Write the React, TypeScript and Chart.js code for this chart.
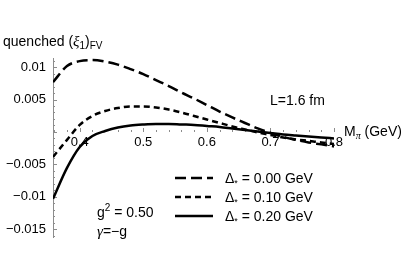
import React, { useEffect, useRef } from 'react';
import { Chart, registerables } from 'chart.js';

Chart.register(...registerables);

// Pion mass M_pi (GeV)
const massGeV = [0.358, 0.38, 0.40, 0.42, 0.44, 0.46, 0.48, 0.50, 0.52, 0.54, 0.56, 0.58, 0.60, 0.62, 0.64, 0.66, 0.68, 0.70, 0.72, 0.74, 0.76, 0.78, 0.80];

// quenched (xi_1)_FV for Delta* = 0.00 GeV (long dashes)
const xiDelta000 = [0.00769, 0.01015, 0.01092, 0.01108, 0.01085, 0.01038, 0.00969, 0.00892, 0.00800, 0.00708, 0.00608, 0.00515, 0.00415, 0.00315, 0.00223, 0.00138, 0.00054, -0.00015, -0.00077, -0.00123, -0.00162, -0.00192, -0.00223];
// Delta* = 0.10 GeV (short dashes)
const xiDelta010 = [-0.00385, -0.00123, 0.00108, 0.00246, 0.00323, 0.00369, 0.00392, 0.00392, 0.00377, 0.00346, 0.00300, 0.00246, 0.00192, 0.00138, 0.00085, 0.00038, -0.00008, -0.00046, -0.00085, -0.00115, -0.00138, -0.00162, -0.00185];
// Delta* = 0.20 GeV (solid)
const xiDelta020 = [-0.01031, -0.00554, -0.00231, -0.00062, 0.00015, 0.00069, 0.00100, 0.00115, 0.00123, 0.00123, 0.00115, 0.00108, 0.00092, 0.00077, 0.00054, 0.00031, 0.00008, -0.00015, -0.00038, -0.00054, -0.00069, -0.00085, -0.00100];

const seriesDeltas = ['0.00', '0.10', '0.20'];
const seriesDashes = [[11, 5], [6, 4], []];

const xTickValues = [0.4, 0.5, 0.6, 0.7, 0.8];
const xTickLabels = ['0.4', '0.5', '0.6', '0.7', '0.8'];
const yTickValues = [-0.015, -0.01, -0.005, 0, 0.005, 0.01];
const yTickLabels = ['\u22120.015', '\u22120.01', '\u22120.005', '', '0.005', '0.01'];

const X_MIN = 0.358;
const X_MAX = 0.8;
const Y_MIN = -0.0162;
const Y_MAX = 0.0114;

const SANS = '"Liberation Sans", Arial, Helvetica, sans-serif';
const SERIF = '"Liberation Serif", "Times New Roman", serif';

type Seg = { t: string; f: string; dy?: number };

function drawSegs(ctx: CanvasRenderingContext2D, x: number, y: number, segs: Seg[]) {
  let cx = x;
  for (const s of segs) {
    ctx.font = s.f;
    ctx.fillText(s.t, cx, y + (s.dy || 0));
    cx += ctx.measureText(s.t).width;
  }
}

const axisTicksPlugin = {
  id: 'axisTicks',
  beforeDatasetsDraw(chart: any) {
    const ctx: CanvasRenderingContext2D = chart.ctx;
    const xs = chart.scales.x;
    const ys = chart.scales.y;
    const left = chart.chartArea.left;
    ctx.save();
    ctx.strokeStyle = '#8c8c8c';
    ctx.lineWidth = 1;
    for (let k = -16; k <= 11; k++) {
      const py = Math.round(ys.getPixelForValue(k / 1000)) + 0.5;
      const major = k % 5 === 0;
      ctx.beginPath();
      ctx.moveTo(left, py);
      ctx.lineTo(left + (major ? 4 : 2), py);
      ctx.stroke();
    }
    const y0 = Math.round(ys.getPixelForValue(0));
    for (let k = 18; k <= 40; k++) {
      const px = Math.round(xs.getPixelForValue(k / 50)) + 0.5;
      const major = k % 5 === 0;
      ctx.beginPath();
      ctx.moveTo(px, y0);
      ctx.lineTo(px, y0 - (major ? 4 : 2));
      ctx.stroke();
    }
    ctx.restore();
  },
  afterDraw(chart: any) {
    const ctx: CanvasRenderingContext2D = chart.ctx;
    ctx.save();
    ctx.fillStyle = '#000';
    ctx.textBaseline = 'alphabetic';
    ctx.textAlign = 'left';
    const f14 = `14px ${SANS}`;
    const f10 = `10px ${SANS}`;
    // y-axis title
    drawSegs(ctx, 3, 46, [
      { t: 'quenched (', f: f14 },
      { t: '\u03BE', f: `italic 15px ${SERIF}` },
      { t: '1', f: f10, dy: 3 },
      { t: ')', f: f14 },
      { t: 'FV', f: f10, dy: 3 },
    ]);
    // x-axis title
    drawSegs(ctx, 344, 136, [
      { t: 'M', f: f14 },
      { t: '\u03C0', f: `italic 10px ${SERIF}`, dy: 3 },
      { t: ' (GeV)', f: f14 },
    ]);
    drawSegs(ctx, 270, 105, [{ t: 'L=1.6 fm', f: f14 }]);
    drawSegs(ctx, 97, 217, [
      { t: 'g', f: f14 },
      { t: '2', f: f10, dy: -6 },
      { t: ' = 0.50', f: f14 },
    ]);
    drawSegs(ctx, 97, 236, [
      { t: '\u03B3', f: `italic 15px ${SERIF}` },
      { t: '=\u2212g', f: f14 },
    ]);
    // legend
    const rowsY = [178, 197, 216];
    chart.data.datasets.forEach((ds: any, i: number) => {
      const y = rowsY[i];
      ctx.save();
      ctx.strokeStyle = ds.borderColor;
      ctx.lineWidth = ds.borderWidth;
      ctx.setLineDash(ds.borderDash || []);
      ctx.beginPath();
      ctx.moveTo(175, y);
      ctx.lineTo(213, y);
      ctx.stroke();
      ctx.restore();
      drawSegs(ctx, 225, y + 5, [
        { t: '\u0394', f: f14 },
        { t: '*', f: `9px ${SANS}`, dy: 3 },
        { t: ` = ${seriesDeltas[i]} GeV`, f: f14 },
      ]);
    });
    ctx.restore();
  },
};

export default function App() {
  const ref = useRef<HTMLCanvasElement>(null);
  useEffect(() => {
    const seriesValues = [xiDelta000, xiDelta010, xiDelta020];
    const chart = new Chart(ref.current as HTMLCanvasElement, {
      type: 'line',
      data: {
        datasets: seriesValues.map((vals, i) => ({
          label: `\u0394* = ${seriesDeltas[i]} GeV`,
          data: massGeV.map((m, j) => ({ x: m, y: vals[j] })),
          borderColor: '#000',
          borderWidth: 2.5,
          borderDash: seriesDashes[i],
          pointRadius: 0,
          fill: false,
          cubicInterpolationMode: 'monotone' as const,
        })),
      },
      options: {
        responsive: false,
        devicePixelRatio: 1,
        animation: false,
        layout: { padding: { top: 58, right: 73, bottom: 35, left: 0 } },
        plugins: { legend: { display: false }, tooltip: { enabled: false } },
        scales: {
          x: {
            type: 'linear',
            min: X_MIN,
            max: X_MAX,
            position: { y: 0 } as any,
            afterBuildTicks: (s: any) => {
              s.ticks = xTickValues.map((v) => ({ value: v }));
            },
            ticks: {
              autoSkip: false,
              maxRotation: 0,
              padding: 3,
              color: '#000',
              font: { family: SANS, size: 13 },
              callback: (v: any) => {
                const i = xTickValues.findIndex((t) => Math.abs(t - Number(v)) < 1e-9);
                return i >= 0 ? xTickLabels[i] : '';
              },
            },
            grid: { display: false, drawTicks: false },
            border: { display: false },
          },
          y: {
            type: 'linear',
            min: Y_MIN,
            max: Y_MAX,
            position: 'left',
            afterFit: (s: any) => {
              s.width = 53;
            },
            afterBuildTicks: (s: any) => {
              s.ticks = yTickValues.map((v) => ({ value: v }));
            },
            ticks: {
              autoSkip: false,
              padding: 7,
              color: '#000',
              font: { family: SANS, size: 13 },
              callback: (v: any) => {
                const i = yTickValues.findIndex((t) => Math.abs(t - Number(v)) < 1e-9);
                return i >= 0 ? yTickLabels[i] : '';
              },
            },
            grid: { display: false, drawTicks: false },
            border: { display: true, color: '#8c8c8c', width: 1 },
          },
        },
      },
      plugins: [axisTicksPlugin],
    });
    return () => chart.destroy();
  }, []);
  return (
    <div style={{ position: 'fixed', left: 0, top: 0, width: 407, height: 272, background: '#fff' }}>
      <canvas ref={ref} width={407} height={272} style={{ display: 'block', width: 407, height: 272 }} />
    </div>
  );
}
